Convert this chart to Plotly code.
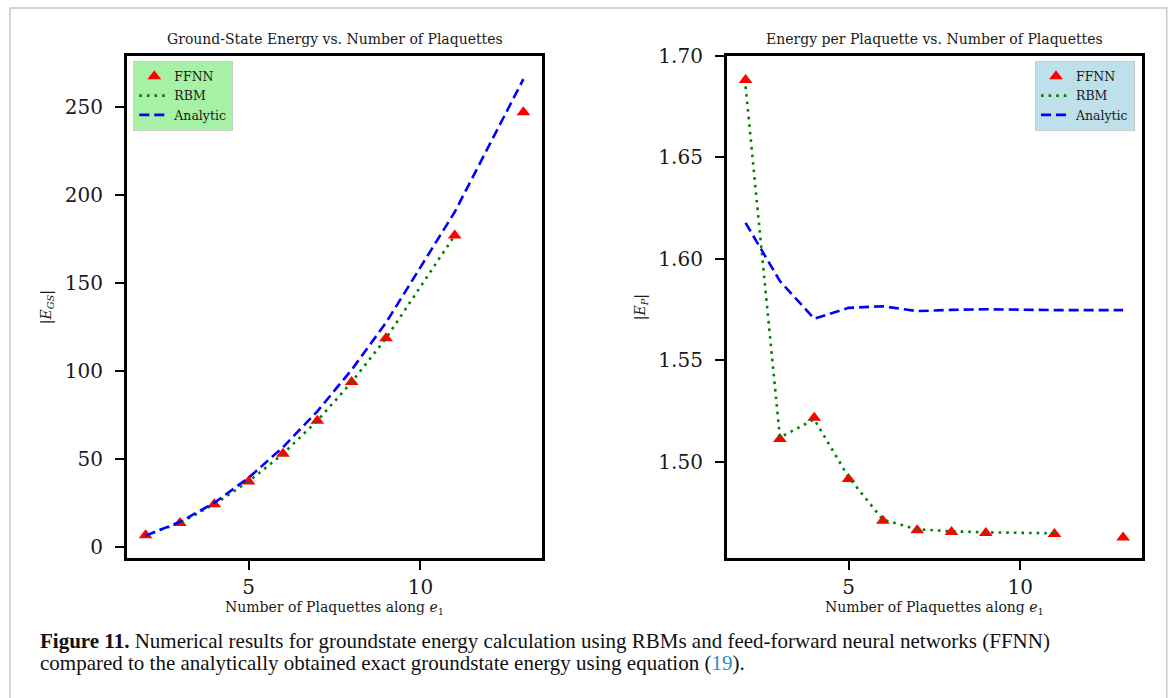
import plotly.graph_objects as go

# ---------------- data ----------------
n_ffnn = [2, 3, 4, 5, 6, 7, 8, 9, 11, 13]
n_rbm = [2, 3, 4, 5, 6, 7, 8, 9, 11]
n_analytic = [2, 3, 4, 5, 6, 7, 8, 9, 11, 13]

# |E_GS|  (left panel)
egs_ffnn = [6.75, 13.6, 24.35, 37.3, 53.0, 71.85, 93.8, 118.7, 177.2, 247.2]
egs_rbm = [6.75, 13.6, 24.35, 37.3, 53.0, 71.85, 93.8, 118.7, 177.2]
egs_analytic = [6.47, 14.30, 25.13, 39.40, 56.76, 77.14, 100.8, 127.6, 190.5, 266.1]

# |E_P|  (right panel)
ep_ffnn = [1.6882, 1.5113, 1.5217, 1.4916, 1.4710, 1.4663, 1.4655, 1.4650, 1.4645, 1.4628]
ep_rbm = [1.6850, 1.5120, 1.5210, 1.4925, 1.4715, 1.4668, 1.4658, 1.4653, 1.4648]
ep_analytic = [1.6178, 1.5891, 1.5706, 1.5759, 1.5767, 1.5743, 1.5749, 1.5752, 1.5748, 1.5748]

x_ticks = [5, 10]
left_y_ticks = [0, 50, 100, 150, 200, 250]
right_y_ticks = [1.50, 1.55, 1.60, 1.65, 1.70]

title_left = "Ground-State Energy vs. Number of Plaquettes"
title_right = "Energy per Plaquette vs. Number of Plaquettes"
x_label = "Number of Plaquettes along <i>e</i><sub>1</sub>"
y_label_left = "|<i>E</i><sub><i>GS</i></sub>|"
y_label_right = "|<i>E</i><sub><i>P</i></sub>|"
caption_1 = ("<b>Figure 11.</b> Numerical results for groundstate energy calculation using RBMs "
             "and feed-forward neural networks (FFNN)")
caption_2 = ("compared to the analytically obtained exact groundstate energy using equation "
             "(<span style='color:#2b8cc4'>19</span>).")

# ---------------- layout geometry ----------------
W, H = 1175, 698
def px(x):
    return x / W
def py(y):
    return 1 - y / H

CHART_FONT = "DejaVu Serif"
TXT = "#1a1a1a"
RED = "#ff0000"
GREEN = "#008000"
BLUE = "#0000ff"

fig = go.Figure()

def add_panel(xa, ya, leg, yf, yr, ya_vals):
    fig.add_trace(go.Scatter(x=n_ffnn, y=yf, mode="markers", name="FFNN",
                             marker=dict(symbol="triangle-up", size=12, color=RED,
                                         line=dict(width=0)),
                             xaxis=xa, yaxis=ya, legend=leg))
    fig.add_trace(go.Scatter(x=n_rbm, y=yr, mode="lines", name="RBM",
                             line=dict(color=GREEN, width=2.6, dash="2.6px,5px"),
                             xaxis=xa, yaxis=ya, legend=leg))
    fig.add_trace(go.Scatter(x=n_analytic, y=ya_vals, mode="lines", name="Analytic",
                             line=dict(color=BLUE, width=2.6, dash="10px,5px"),
                             xaxis=xa, yaxis=ya, legend=leg))

add_panel("x", "y", "legend", egs_ffnn, egs_rbm, egs_analytic)
add_panel("x2", "y2", "legend2", ep_ffnn, ep_rbm, ep_analytic)

axis_common = dict(showline=True, mirror=True, linewidth=2.6, linecolor="black",
                   showgrid=False, zeroline=False, ticks="outside", ticklen=9,
                   tickwidth=2, tickcolor="black", automargin=False,
                   tickfont=dict(family=CHART_FONT, size=20, color=TXT))
title_font = dict(family=CHART_FONT, size=14, color=TXT)

top, bottom = 56, 558.3
fig.update_layout(
    width=W, height=H,
    margin=dict(l=0, r=0, t=0, b=0, autoexpand=False),
    paper_bgcolor="white", plot_bgcolor="white",
    showlegend=True,
    xaxis=dict(domain=[px(126.7), px(542.3)], range=[1.45, 13.55], tickvals=x_ticks,
               anchor="y", title=dict(text=x_label, standoff=2, font=title_font),
               **axis_common),
    yaxis=dict(domain=[py(bottom), py(top)], range=[-6.4, 279.2], tickvals=left_y_ticks,
               anchor="x", ticklabelstandoff=8,
               title=dict(text=y_label_left, standoff=10, font=title_font),
               **axis_common),
    xaxis2=dict(domain=[px(726.7), px(1142)], range=[1.45, 13.55], tickvals=x_ticks,
                anchor="y2", title=dict(text=x_label, standoff=2, font=title_font),
                **axis_common),
    yaxis2=dict(domain=[py(bottom), py(top)], range=[1.4525, 1.70], tickvals=right_y_ticks,
                tickformat=".2f", anchor="x2", ticklabelstandoff=8,
                title=dict(text=y_label_right, standoff=10, font=title_font),
                **axis_common),
    legend=dict(x=px(133.3), y=py(60.7), xanchor="left", yanchor="top",
                bgcolor="rgba(144,238,144,0.8)", bordercolor="rgba(200,200,200,0.9)",
                borderwidth=1, itemwidth=30,
                font=dict(family=CHART_FONT, size=12.5, color=TXT)),
    legend2=dict(x=px(1135), y=py(60.7), xanchor="right", yanchor="top",
                 bgcolor="rgba(173,216,230,0.8)", bordercolor="rgba(200,200,200,0.9)",
                 borderwidth=1, itemwidth=30,
                 font=dict(family=CHART_FONT, size=12.5, color=TXT)),
    shapes=[dict(type="rect", xref="paper", yref="paper",
                 x0=px(10), x1=px(1166.7), y0=py(720), y1=py(8),
                 line=dict(color="#c8c8c8", width=1.5), fillcolor="rgba(0,0,0,0)",
                 layer="below")],
)

fig.add_annotation(text=title_left, xref="paper", yref="paper", x=px(334.5), y=py(39),
                   xanchor="center", yanchor="middle", showarrow=False, font=title_font)
fig.add_annotation(text=title_right, xref="paper", yref="paper", x=px(934.3), y=py(39),
                   xanchor="center", yanchor="middle", showarrow=False, font=title_font)
cap_font = dict(family="Liberation Serif", size=21, color="#111111")
fig.add_annotation(text=caption_1, xref="paper", yref="paper", x=px(38), y=py(641),
                   xanchor="left", yanchor="middle", showarrow=False, font=cap_font)
fig.add_annotation(text=caption_2, xref="paper", yref="paper", x=px(38), y=py(663),
                   xanchor="left", yanchor="middle", showarrow=False, font=cap_font)

fig.write_html("out.html",
               config={"displayModeBar": False},
               post_script="document.body.style.margin='0px';"
                           "document.body.style.overflow='hidden';")
